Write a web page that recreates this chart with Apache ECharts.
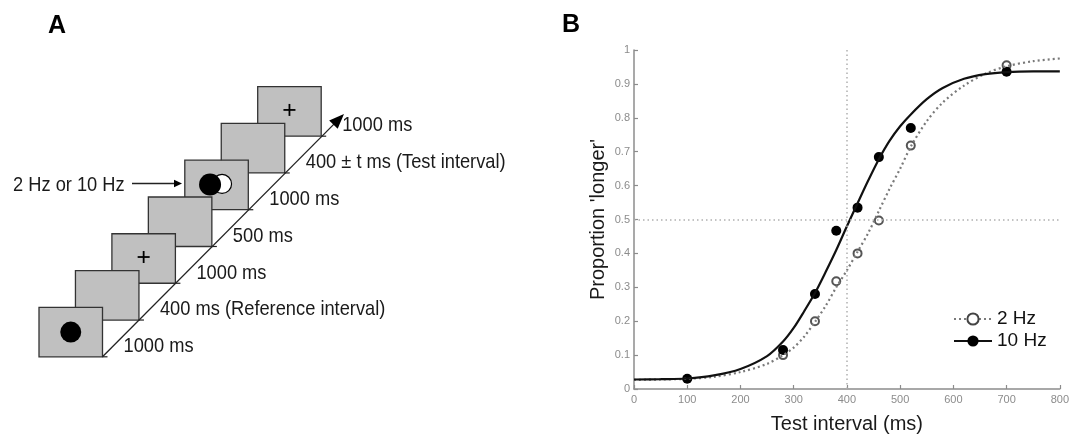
<!DOCTYPE html>
<html>
<head>
<meta charset="utf-8">
<script src="https://cdn.jsdelivr.net/npm/echarts@6/dist/echarts.min.js"></script>
<style>
  html, body { margin: 0; padding: 0; background: #fff; }
  #main { width: 1072px; height: 439px; }
</style>
</head>
<body>
<div id="main"></div>
<script>
// panel B data
var x2 = [280, 340, 380, 420, 460, 520, 700];
var p2 = [0.10, 0.20, 0.318, 0.40, 0.497, 0.718, 0.955];
var x10 = [100, 280, 340, 380, 420, 460, 520, 700];
var p10 = [0.03, 0.115, 0.28, 0.467, 0.535, 0.684, 0.77, 0.936];

// fitted curves
var fitX = [0, 50, 100, 150, 200, 250, 280, 300, 320, 340, 360, 380, 400, 420, 440, 460, 480, 500, 520, 550, 580, 620, 660, 700, 750, 800];
var fit2 = [0.027, 0.028, 0.030, 0.036, 0.050, 0.074, 0.10, 0.122, 0.155, 0.198, 0.245, 0.30, 0.35, 0.405, 0.46, 0.525, 0.59, 0.65, 0.715, 0.79, 0.845, 0.895, 0.93, 0.952, 0.967, 0.975];
var fit10 = [0.028, 0.029, 0.031, 0.040, 0.059, 0.097, 0.14, 0.18, 0.23, 0.283, 0.345, 0.41, 0.48, 0.548, 0.615, 0.678, 0.732, 0.775, 0.81, 0.855, 0.888, 0.915, 0.929, 0.935, 0.937, 0.937];

var refX = 400;
var refY = 0.5;

// panel A: trial sequence, bottom frame first
var durations = ['1000 ms', '400 ms (Reference interval)', '1000 ms', '500 ms', '1000 ms', '400 \u00b1 t ms (Test interval)', '1000 ms'];
var contents = ['dot', '', 'plus', '', 'flicker', '', 'plus'];

function pairs(xs, ys) {
    var out = [];
    for (var i = 0; i < xs.length; i++) out.push([xs[i], ys[i]]);
    return out;
}

var FONT = "'Liberation Sans', Arial, sans-serif";
var txtColor = '#1a1a1a';

// build schematic
var fx0 = 39, fy0 = 307.3, fdx = 36.45, fdy = 36.77, fw = 63.5, fh = 49.5;
var graphics = [];

function label(text, x, y, size, bold) {
    return {
        type: 'text', x: x, y: y, scaleX: bold ? 1 : 0.87, silent: true,
        style: {
            text: text, x: 0, y: 0,
            font: (bold ? 'bold ' : '') + size + 'px ' + FONT,
            fill: bold ? '#000' : txtColor,
            align: 'left', verticalAlign: 'middle'
        }
    };
}

// frames, drawn top one first so lower frames overlap it
for (var i = contents.length - 1; i >= 0; i--) {
    var fx = fx0 + i * fdx, fy = fy0 - i * fdy;
    var cx = fx + fw / 2, cy = fy + fh / 2;
    var kids = [{
        type: 'rect', shape: { x: fx, y: fy, width: fw, height: fh },
        style: { fill: '#c0c0c0', stroke: '#333', lineWidth: 1.3 }
    }];
    if (contents[i] == 'dot') {
        kids.push({ type: 'circle', shape: { cx: cx, cy: cy, r: 10.5 }, style: { fill: '#000' } });
    } else if (contents[i] == 'plus') {
        kids.push({ type: 'line', shape: { x1: cx - 6, y1: cy - 1.5, x2: cx + 6, y2: cy - 1.5 }, style: { stroke: '#000', lineWidth: 1.8 } });
        kids.push({ type: 'line', shape: { x1: cx, y1: cy - 7.5, x2: cx, y2: cy + 4.5 }, style: { stroke: '#000', lineWidth: 1.8 } });
    } else if (contents[i] == 'flicker') {
        kids.push({ type: 'circle', shape: { cx: cx + 5.5, cy: cy - 1, r: 9.5 }, style: { fill: '#fff', stroke: '#000', lineWidth: 1.2 } });
        kids.push({ type: 'circle', shape: { cx: cx - 6.5, cy: cy - 0.5, r: 11 }, style: { fill: '#000' } });
    }
    graphics.push({ type: 'group', silent: true, children: kids });
}

// time axis along the frame corners
var ax1 = fx0 + fw, ay1 = fy0 + fh;
var tipX = 344, tipY = 114;
var len = Math.sqrt((tipX - ax1) * (tipX - ax1) + (tipY - ay1) * (tipY - ay1));
var ux = (tipX - ax1) / len, uy = (tipY - ay1) / len;
graphics.push({
    type: 'line', silent: true,
    shape: { x1: ax1, y1: ay1, x2: tipX - ux * 10, y2: tipY - uy * 10 },
    style: { stroke: '#222', lineWidth: 1.3 }
});
graphics.push({
    type: 'polygon', silent: true,
    shape: { points: [[tipX, tipY], [tipX - ux * 15 - uy * 6, tipY - uy * 15 + ux * 6], [tipX - ux * 15 + uy * 6, tipY - uy * 15 - ux * 6]] },
    style: { fill: '#000' }
});
for (var k = 0; k < durations.length; k++) {
    var ccx = ax1 + k * fdx, ccy = ay1 - k * fdy;
    graphics.push({ type: 'line', silent: true, shape: { x1: ccx, y1: ccy, x2: ccx + 5, y2: ccy }, style: { stroke: '#222', lineWidth: 1.2 } });
    graphics.push(label(durations[k], ccx + 21, ccy - 10.5, 21));
}

// frequency note with arrow
graphics.push(label('2 Hz or 10 Hz', 13, 185, 21));
graphics.push({ type: 'line', silent: true, shape: { x1: 132, y1: 183.5, x2: 176, y2: 183.5 }, style: { stroke: '#222', lineWidth: 1.3 } });
graphics.push({ type: 'polygon', silent: true, shape: { points: [[182, 183.5], [174, 179.8], [174, 187.2]] }, style: { fill: '#000' } });

// panel letters
graphics.push(label('A', 48, 26, 25, true));
graphics.push(label('B', 562, 25, 25, true));

var grey = '#8c8c8c';
var myChart = echarts.init(document.getElementById('main'), null, { renderer: 'canvas' });

var option = {
    animation: false,
    backgroundColor: '#fff',
    textStyle: { fontFamily: FONT },
    graphic: graphics,
    grid: { left: 634, top: 50, right: 4.5, bottom: 47.7 },
    legend: {
        data: ['2 Hz', '10 Hz'],
        orient: 'vertical',
        left: 953,
        top: 309,
        padding: 0,
        itemGap: 2,
        itemWidth: 38,
        itemHeight: 14,
        selectedMode: false,
        textStyle: { fontSize: 19, color: '#111', lineHeight: 20, fontFamily: FONT }
    },
    xAxis: {
        type: 'value', min: 0, max: 800, interval: 100,
        name: 'Test interval (ms)', nameLocation: 'middle', nameGap: 25,
        nameTextStyle: { fontSize: 20, color: txtColor, fontFamily: FONT },
        axisLine: { lineStyle: { color: grey, width: 1.5 } },
        axisTick: { inside: true, length: 4, lineStyle: { color: grey, width: 1.2 } },
        axisLabel: { color: grey, fontSize: 11, margin: 5, showMaxLabel: true },
        splitLine: { show: false }
    },
    yAxis: {
        type: 'value', min: 0, max: 1, interval: 0.1,
        name: "Proportion 'longer'", nameLocation: 'middle', nameGap: 26,
        nameTextStyle: { fontSize: 20, color: txtColor, fontFamily: FONT },
        axisLine: { show: true, lineStyle: { color: grey, width: 1.5 } },
        axisTick: { show: true, inside: true, length: 4, lineStyle: { color: grey, width: 1.2 } },
        axisLabel: { color: grey, fontSize: 11, margin: 4 },
        splitLine: { show: false }
    },
    series: [
        {
            name: '2 Hz', type: 'line', smooth: 0.3, showSymbol: false,
            symbol: 'emptyCircle', symbolSize: 9,
            data: pairs(fitX, fit2),
            itemStyle: { color: '#444' },
            lineStyle: { color: '#7a7a7a', width: 2.2, type: [2, 3] },
            markLine: {
                silent: true, symbol: 'none', label: { show: false },
                lineStyle: { color: '#b0b0b0', width: 1.5, type: [1.5, 3] },
                data: [{ xAxis: refX }, { yAxis: refY }]
            }
        },
        {
            name: '10 Hz', type: 'line', smooth: 0.3, showSymbol: false,
            symbol: 'circle', symbolSize: 9,
            data: pairs(fitX, fit10),
            itemStyle: { color: '#000' },
            lineStyle: { color: '#111', width: 2.2 }
        },
        {
            name: '2 Hz points', type: 'scatter', symbol: 'emptyCircle', symbolSize: 8,
            data: pairs(x2, p2),
            itemStyle: { color: '#555', borderWidth: 1.5, opacity: 1 }
        },
        {
            name: '10 Hz points', type: 'scatter', symbol: 'circle', symbolSize: 10,
            data: pairs(x10, p10),
            itemStyle: { color: '#000', opacity: 1 }
        }
    ]
};

myChart.setOption(option);
</script>
</body>
</html>
